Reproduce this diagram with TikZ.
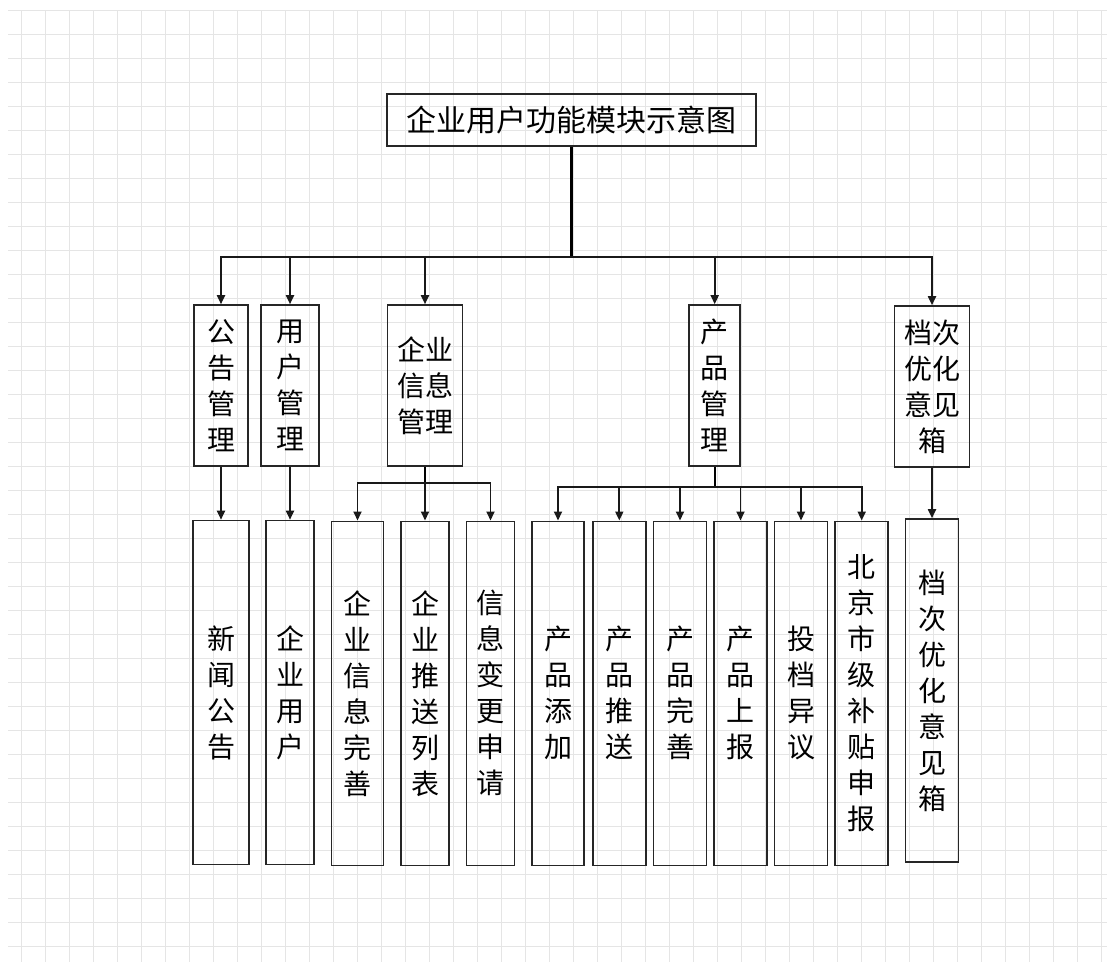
\documentclass[tikz,border=0pt]{standalone}
\usepackage{fontspec}
\newfontfamily\cjk{Noto Sans CJK SC}
\usetikzlibrary{arrows.meta}
\begin{document}
\begin{tikzpicture}[x=1pt,y=-1pt]
\tikzstyle{every node}=[shape=rectangle, draw=black!85, line width=1.6pt, inner sep=0pt, align=center, font=\cjk\fontsize{28}{36}\selectfont]
\tikzstyle{link}=[draw=black!90, line width=1.8pt, -{Triangle[width=8pt,length=9pt]}]
\tikzstyle{top}=[minimum height=161pt]
\tikzstyle{leaf}=[minimum height=344pt]
% background grid
\useasboundingbox (0,0) rectangle (1107,962);
\fill[white] (0,0) rectangle (1107,962);
\foreach \gx in {21,45,...,1101} \draw[black!10, line width=1pt] (\gx,10) -- (\gx,962);
\foreach \gy in {10,34,...,946} \draw[black!10, line width=1pt] (8,\gy) -- (1107,\gy);
% boxes
\node[minimum width=369pt, minimum height=52pt, font=\cjk\fontsize{30}{36}\selectfont] (root) at (571.5,120) {企业用户功能模块示意图};
\node[top, minimum width=54pt] (GGGL) at (221,385.5) {公\\告\\管\\理};
\node[top, minimum width=58pt] (YHGL) at (290,385.5) {用\\户\\管\\理};
\node[top, minimum width=75pt] (QYGL) at (425,385.5) {企业\\信息\\管理};
\node[top, minimum width=51pt] (CPGL) at (714.7,385.5) {产\\品\\管\\理};
\node[top, minimum width=75pt] (DCGL) at (932,386.5) {档次\\优化\\意见\\箱};
\node[leaf, minimum width=56pt] (XWGG) at (221,692.5) {新\\闻\\公\\告};
\node[leaf, minimum width=48pt] (QYYH) at (290,692.5) {企\\业\\用\\户};
\node[leaf, minimum width=52pt] (QYWS) at (357.5,693.3) {企\\业\\信\\息\\完\\善};
\node[leaf, minimum width=48pt] (QYTS) at (425,693.3) {企\\业\\推\\送\\列\\表};
\node[leaf, minimum width=48pt] (XXBG) at (490.5,693.3) {信\\息\\变\\更\\申\\请};
\node[leaf, minimum width=52pt] (CPTJ) at (558,693.3) {产\\品\\添\\加};
\node[leaf, minimum width=53pt] (CPTS) at (619.3,693.3) {产\\品\\推\\送};
\node[leaf, minimum width=53pt] (CPWS) at (680,693.3) {产\\品\\完\\善};
\node[leaf, minimum width=53pt] (CPSB) at (740.5,693.3) {产\\品\\上\\报};
\node[leaf, minimum width=53pt] (TDYY) at (801,693.3) {投\\档\\异\\议};
\node[leaf, minimum width=53pt] (BJBT) at (861.7,693.3) {北\\京\\市\\级\\补\\贴\\申\\报};
\node[leaf, minimum width=53pt, minimum height=343pt] (DCYJ) at (932,690.5) {档\\次\\优\\化\\意\\见\\箱};
% connectors
\coordinate (bus) at (571.5,257);
\coordinate (QYbus) at (425,483.3);
\coordinate (CPbus) at (714.7,487.3);
\draw[line width=2.2pt] (root) -- (bus);
\draw[link] (bus) -| (GGGL);
\draw[link] (bus) -| (YHGL);
\draw[link] (bus) -| (QYGL);
\draw[link] (bus) -| (CPGL);
\draw[link] (bus) -| (DCGL);
\draw[link] (GGGL) -- (XWGG);
\draw[link] (YHGL) -- (QYYH);
\draw[link] (DCGL) -- (DCYJ);
\draw[line width=1.8pt] (QYGL) -- (QYbus);
\draw[link] (QYbus) -| (QYWS);
\draw[link] (QYbus) -- (QYTS);
\draw[link] (QYbus) -| (XXBG);
\draw[line width=1.8pt] (CPGL) -- (CPbus);
\draw[link] (CPbus) -| (CPTJ);
\draw[link] (CPbus) -| (CPTS);
\draw[link] (CPbus) -| (CPWS);
\draw[link] (CPbus) -| (CPSB);
\draw[link] (CPbus) -| (TDYY);
\draw[link] (CPbus) -| (BJBT);
\end{tikzpicture}
\end{document}
